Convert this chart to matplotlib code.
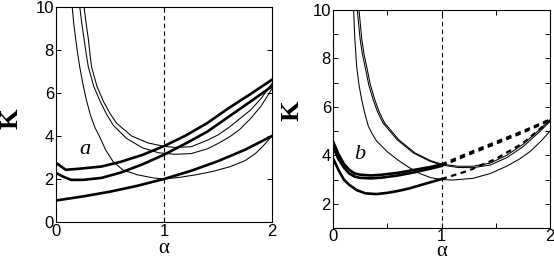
import numpy as np
from matplotlib import pyplot as plt

# ---------------- panel a ----------------
aL_thick1 = [0, 0.25, 0.5, 0.75, 1.0, 1.25, 1.5, 1.75, 2.0]
kL_thick1 = [1.0, 1.19, 1.41, 1.68, 2.0, 2.38, 2.83, 3.36, 4.0]

aL_thick2 = [0, 0.07, 0.14, 0.25, 0.42, 0.6, 0.8, 1.0, 1.2, 1.4, 1.6, 1.8, 2.0]
kL_thick2 = [2.28, 2.1, 1.96, 1.96, 2.05, 2.3, 2.68, 3.13, 3.65, 4.2, 4.9, 5.6, 6.31]

aL_thick3 = [0, 0.09, 0.2, 0.42, 0.6, 0.8, 1.0, 1.2, 1.4, 1.6, 1.8, 2.0]
kL_thick3 = [2.75, 2.43, 2.47, 2.58, 2.8, 3.12, 3.53, 4.02, 4.6, 5.3, 5.95, 6.62]

aL_thinA = [0.15, 0.165, 0.18, 0.2, 0.22, 0.25, 0.28, 0.32, 0.36, 0.41, 0.46, 0.53,
            0.62, 0.75, 0.9, 1.0, 1.15, 1.3, 1.45, 1.61, 1.75, 1.85, 1.92, 2.0]
kL_thinA = [10, 9.2, 8.6, 7.85, 7.2, 6.4, 5.7, 4.95, 4.4, 3.9, 3.35, 2.8,
            2.42, 2.2, 2.05, 2.0, 2.08, 2.2, 2.35, 2.57, 2.85, 3.2, 3.55, 4.0]

aL_thinB = [0.22, 0.24, 0.26, 0.28, 0.30, 0.35, 0.41, 0.47, 0.53, 0.65, 0.8, 0.95,
            1.1, 1.25, 1.4, 1.5, 1.61, 1.7, 1.8, 1.9, 2.0]
kL_thinB = [10, 9.2, 8.5, 7.8, 7.2, 6.3, 5.6, 5.0, 4.5, 3.9, 3.45, 3.22,
            3.15, 3.18, 3.4, 3.65, 3.97, 4.3, 4.8, 5.4, 6.2]

aL_thinC = [0.26, 0.28, 0.30, 0.315, 0.33, 0.38, 0.44, 0.5, 0.56, 0.7, 0.85, 1.0,
            1.1, 1.25, 1.4, 1.5, 1.61, 1.7, 1.8, 1.9, 2.0]
kL_thinC = [10, 9.2, 8.5, 7.8, 7.2, 6.3, 5.6, 5.05, 4.6, 4.0, 3.68, 3.52,
            3.47, 3.5, 3.8, 4.05, 4.43, 4.8, 5.2, 5.75, 6.45]

# ---------------- panel b ----------------
aR_thickG = [0, 0.05, 0.1, 0.15, 0.22, 0.3, 0.4, 0.5, 0.6, 0.7, 0.83, 1.0]
kR_thickG = [3.88, 3.4, 3.0, 2.78, 2.56, 2.43, 2.4, 2.45, 2.53, 2.63, 2.8, 3.02]
aR_dashG = [1.0, 1.25, 1.5, 1.75, 2.0]
kR_dashG = [3.02, 3.37, 3.85, 4.5, 5.44]

aR_thickH = [0, 0.05, 0.1, 0.15, 0.2, 0.25, 0.35, 0.45, 0.6, 0.75, 0.9, 1.0]
kR_thickH1 = [4.58, 4.05, 3.65, 3.4, 3.25, 3.2, 3.17, 3.2, 3.28, 3.4, 3.52, 3.62]
kR_thickH2 = [4.35, 3.85, 3.5, 3.25, 3.12, 3.07, 3.05, 3.08, 3.17, 3.3, 3.45, 3.56]
aR_dashH = [1.0, 1.25, 1.5, 1.75, 2.0]
kR_dashH1 = [3.62, 4.1, 4.55, 5.0, 5.48]
kR_dashH2 = [3.56, 4.03, 4.48, 4.94, 5.44]

aR_thinD = [0.19, 0.2, 0.218, 0.24, 0.264, 0.295, 0.326, 0.36, 0.4, 0.5, 0.6, 0.7,
            0.8, 0.9, 1.0, 1.1, 1.29, 1.45, 1.6, 1.72, 1.82, 1.92, 2.0]
kR_thinD = [10, 8.9, 7.67, 6.9, 6.3, 5.7, 5.2, 4.9, 4.6, 4.15, 3.8, 3.5,
            3.25, 3.08, 3.0, 2.98, 3.05, 3.25, 3.55, 3.85, 4.17, 4.6, 5.0]

aR_thinE = [0.224, 0.25, 0.27, 0.295, 0.33, 0.37, 0.41, 0.46, 0.59, 0.74, 0.89,
            1.0, 1.15, 1.29, 1.45, 1.6, 1.75, 1.91, 2.0]
kR_thinE = [10, 8.8, 8.2, 7.67, 6.9, 6.3, 5.8, 5.34, 4.65, 4.1, 3.76,
            3.6, 3.5, 3.49, 3.6, 3.9, 4.35, 5.0, 5.4]
aR_thinF = [0.24, 0.265, 0.285, 0.31, 0.345, 0.385, 0.425, 0.475, 0.605, 0.755, 0.9,
            1.0, 1.15, 1.29, 1.45, 1.6, 1.75, 1.91, 2.0]
kR_thinF = [10, 8.8, 8.2, 7.67, 6.9, 6.3, 5.8, 5.34, 4.65, 4.1, 3.78,
            3.64, 3.55, 3.55, 3.68, 4.0, 4.45, 5.08, 5.46]

xticks_a = [0, 1, 2]
xticks_b = [0, 0.5, 1, 1.5, 2]
yticks_a = [0, 2, 4, 6, 8, 10]
yticks_b = [1, 2, 3, 4, 5, 6, 7, 8, 9, 10]

THICK = 1.9
THIN = 0.75

plt.rcParams['font.family'] = ['Liberation Sans', 'DejaVu Sans']

fig = plt.figure(figsize=(5.54, 2.6), dpi=100)
axL = fig.add_axes([56/554, 38/260, 216/554, 215/260])
axR = fig.add_axes([333/554, 32/260, 217/554, 218/260])


def style(ax, xt, yt, ylo):
    ax.set_xlim(0, 2)
    ax.set_ylim(ylo, 10)
    ax.set_xticks(xt)
    ax.set_xticklabels(['%g' % v if float(v).is_integer() else '' for v in xt])
    ax.set_yticks(yt)
    ax.set_yticklabels(['%g' % v if v % 2 == 0 else '' for v in yt])
    ax.tick_params(direction='in', top=True, right=True, length=3.5, width=0.7,
                   labelsize=12, pad=1.5)
    for s in ax.spines.values():
        s.set_linewidth(0.8)
    ax.axvline(1, color='k', lw=0.8, ls=(0, (4, 3)))
    ax.set_xlabel('α', family='Liberation Serif', fontsize=15, va='center')
    ax.set_ylabel('K', family='Liberation Serif', fontsize=19, fontweight='bold',
                  va='center')


# panel a
axL.plot(aL_thinA, kL_thinA, 'k-', lw=THIN)
axL.plot(aL_thinB, kL_thinB, 'k-', lw=THIN)
axL.plot(aL_thinC, kL_thinC, 'k-', lw=THIN)
axL.plot(aL_thick1, kL_thick1, 'k-', lw=THICK)
axL.plot(aL_thick2, kL_thick2, 'k-', lw=THICK)
axL.plot(aL_thick3, kL_thick3, 'k-', lw=THICK)
axL.text(0.27, 3.35, 'a', family='Liberation Serif', style='italic', fontsize=16,
         ha='center', va='center')
style(axL, xticks_a, yticks_a, 0)
axL.xaxis.set_label_coords(0.5, -0.125)
axL.yaxis.set_label_coords(-0.21, 0.48)

# panel b
axR.plot(aR_thinD, kR_thinD, 'k-', lw=THIN)
axR.plot(aR_thinE, kR_thinE, 'k-', lw=THIN)
axR.plot(aR_thinF, kR_thinF, 'k-', lw=THIN)
axR.plot(aR_thickG, kR_thickG, 'k-', lw=THICK)
axR.plot(aR_thickH, kR_thickH1, 'k-', lw=THICK)
axR.plot(aR_thickH, kR_thickH2, 'k-', lw=THICK)
axR.plot(aR_dashG, kR_dashG, 'k', lw=1.6, ls=(0, (2.5, 2)))
axR.plot(aR_dashH, kR_dashH1, 'k', lw=1.6, ls=(0, (2.5, 2)))
axR.plot(aR_dashH, kR_dashH2, 'k', lw=1.6, ls=(0, (2.5, 2)))
axR.text(0.25, 4.03, 'b', family='Liberation Serif', style='italic', fontsize=16,
         ha='center', va='center')
style(axR, xticks_b, yticks_b, 1)
axR.tick_params(axis='x', pad=0.5)
axR.xaxis.set_label_coords(0.5, -0.106)
axR.yaxis.set_label_coords(-0.19, 0.54)

fig.savefig('out.png', dpi=100)
